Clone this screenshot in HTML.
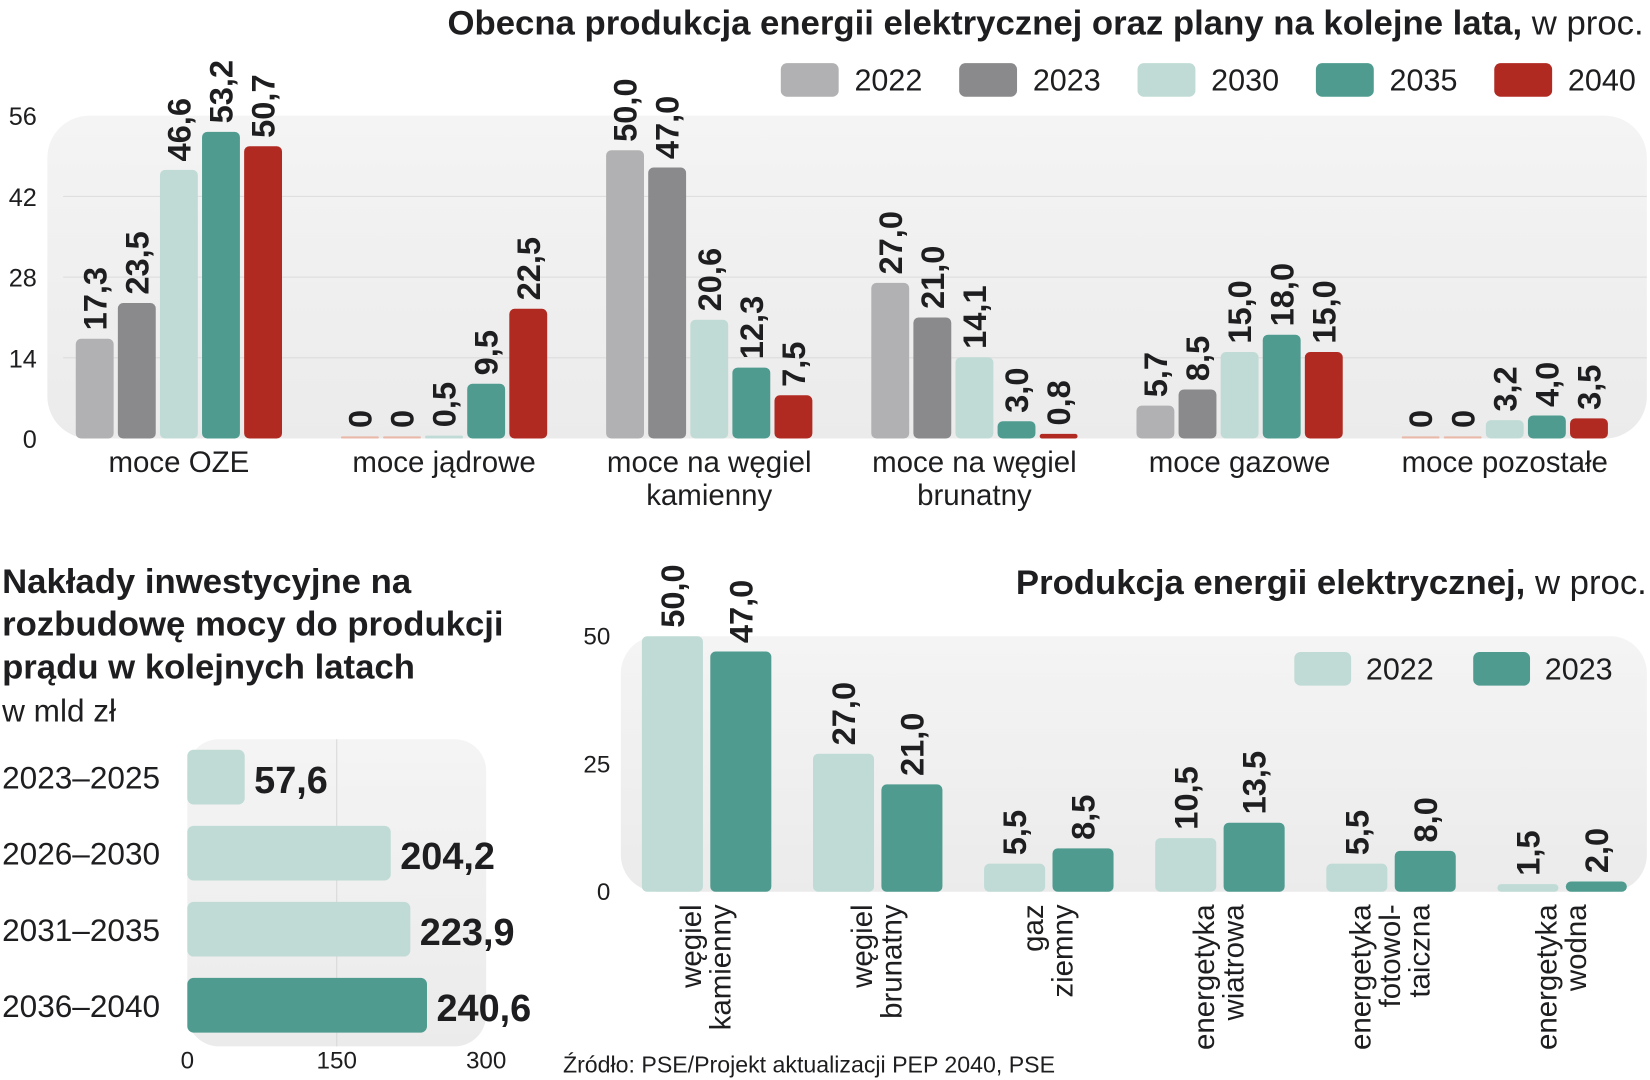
<!DOCTYPE html>
<html><head><meta charset="utf-8">
<style>
html,body{margin:0;padding:0;background:#fff;}
svg{display:block;}
text{font-family:"Liberation Sans",sans-serif;fill:#1e1e20;}
.b{font-family:"Liberation Sans Narrow","Liberation Sans",sans-serif;font-weight:bold;}
</style></head>
<body>
<svg id="root" width="1650" height="1080" viewBox="0 0 1568 1027" preserveAspectRatio="none" xmlns="http://www.w3.org/2000/svg">
<defs>
<linearGradient id="pg" x1="0" y1="0" x2="0" y2="1"><stop offset="0" stop-color="#f4f4f4"/><stop offset="1" stop-color="#ebebeb"/></linearGradient>
</defs>
<g id="top"></g>
<g id="inv"></g>
<g id="prod"></g>
<text x="535" y="1020" font-size="22" fill="#333" style="font-family:'Liberation Sans Narrow','Liberation Sans',sans-serif">Źródło: PSE/Projekt aktualizacji PEP 2040, PSE</text>
</svg>
<script>
// ---------- data ----------
const topCategories = [["moce OZE"],["moce jądrowe"],["moce na węgiel","kamienny"],["moce na węgiel","brunatny"],["moce gazowe"],["moce pozostałe"]];
const topSeriesNames = ["2022","2023","2030","2035","2040"];
const top2022 = [17.3, 0, 50.0, 27.0, 5.7, 0];
const top2023 = [23.5, 0, 47.0, 21.0, 8.5, 0];
const top2030 = [46.6, 0.5, 20.6, 14.1, 15.0, 3.2];
const top2035 = [53.2, 9.5, 12.3, 3.0, 18.0, 4.0];
const top2040 = [50.7, 22.5, 7.5, 0.8, 15.0, 3.5];
const topTicks = [0, 14, 28, 42, 56];

const invCategories = ["2023–2025","2026–2030","2031–2035","2036–2040"];
const invValues = [57.6, 204.2, 223.9, 240.6];
const invTicks = [0, 150, 300];

const prodCategories = [["węgiel","kamienny"],["węgiel","brunatny"],["gaz","ziemny"],["energetyka","wiatrowa"],["energetyka","fotowol-","taiczna"],["energetyka","wodna"]];
const prod2022 = [50.0, 27.0, 5.5, 10.5, 5.5, 1.5];
const prod2023 = [47.0, 21.0, 8.5, 13.5, 8.0, 2.0];
const prodTicks = [0, 25, 50];

const NS = "http://www.w3.org/2000/svg";
function mk(parent, tag, attrs, txt){
  const e = document.createElementNS(NS, tag);
  for (const k in attrs) e.setAttribute(k, attrs[k]);
  if (txt !== undefined) e.textContent = txt;
  parent.appendChild(e);
  return e;
}
function fmt(v){ return v === 0 ? "0" : v.toFixed(1).replace(".", ","); }

// ---------- top chart ----------
(function(){
  const g = document.getElementById("top");
  const y0 = 417, y1 = 110, vmax = 56;
  const y = v => y0 - v / vmax * (y0 - y1);
  const cx = i => 170 + i * 252;
  const colors = ["#b1b1b3","#8a8a8c","#c0dbd5","#4f9b8f","#b02a22"];
  const series = [top2022, top2023, top2030, top2035, top2040];
  const panel = mk(g, "rect", {x:45, y:110, width:1520, height:307, rx:40, fill:"url(#pg)"});
  
  
  topTicks.forEach(t => {
    if (t > 0 && t < vmax) {
      const l = mk(g, "line", {x1:60, x2:1565, y1:y(t), y2:y(t), stroke:"#dcdcdc", "stroke-width":1});
      
      
    }
    const tx = mk(g, "text", {x:35, y:y(t)+9, "font-size":24, "text-anchor":"end", fill:"#333"}, String(t));
    
    
  });
  topCategories.forEach((c, i) => {
    series.forEach((s, j) => {
      const v = s[i];
      const bx = cx(i) - 98 + j * 40;
      const h = Math.max(y0 - y(v), 2);
      const r = mk(g, "rect", {x:bx, y:y0-h, width:36, height:h, rx:Math.min(5,h/2), fill: v === 0 ? "#e8b8a8" : colors[j]});
      
      
      const lx = bx + 18 + 11, ly = y0 - h - 8;
      const t = mk(g, "text", {x:lx, y:ly, "font-size":31, transform:`rotate(-90 ${lx} ${ly})`, class:"b"}, fmt(v));
      
      
    });
    c.forEach((line, k) => {
      const t = mk(g, "text", {x:cx(i), y:449 + k*31, "font-size":28, "text-anchor":"middle"}, line);
      
      
    });
  });
  topSeriesNames.forEach((n, j) => {
    const lx = 742 + j * 169.5;
    const r = mk(g, "rect", {x:lx, y:60, width:55, height:32, rx:6, fill:colors[j]});
    
    
    const t = mk(g, "text", {x:lx+70, y:86, "font-size":29}, n);
    
    
  });
  const title = mk(g, "text", {x:1562, y:33, "font-size":33, "text-anchor":"end"});
  
  
  mk(title, "tspan", {class:"b"}, "Obecna produkcja energii elektrycznej oraz plany na kolejne lata,");
  mk(title, "tspan", {}, " w proc.");
})();

// ---------- investment chart ----------
(function(){
  const g = document.getElementById("inv");
  const x0 = 178, x1 = 462, vmax = 300;
  const x = v => x0 + v / vmax * (x1 - x0);
  const titleLines = ["Nakłady inwestycyjne na","rozbudowę mocy do produkcji","prądu w kolejnych latach"];
  titleLines.forEach((l, k) => {
    const t = mk(g, "text", {x:2, y:564 + k*40.5, "font-size":33, class:"b"}, l);
    
    
  });
  const sub = mk(g, "text", {x:2, y:686, "font-size":30, fill:"#333"}, "w mld zł");
  
  
  const p = mk(g, "rect", {x:178, y:703, width:284, height:292, rx:30, fill:"url(#pg)"});
  
  
  const gl = mk(g, "line", {x1:x(150), x2:x(150), y1:703, y2:995, stroke:"#d8d8d8"});
  
  
  invTicks.forEach(t => {
    const tx = mk(g, "text", {x:x(t), y:1016, "font-size":23, "text-anchor":"middle", fill:"#333"}, String(t));
    
    
  });
  invCategories.forEach((c, i) => {
    const cy = 739 + i * 72.3;
    const r = mk(g, "rect", {x:x0, y:cy-26, width:x(invValues[i])-x0, height:52, rx:6, fill: i === 3 ? "#4f9b8f" : "#c0dbd5"});
    
    
    const t = mk(g, "text", {x:2, y:cy+11, "font-size":30}, c);
    
    
    const vl = mk(g, "text", {x:x(invValues[i])+9, y:cy+15, "font-size":36, class:"b"}, fmt(invValues[i]));
    
    
  });
})();

// ---------- production chart ----------
(function(){
  const g = document.getElementById("prod");
  const y0 = 848, y1 = 605, vmax = 50;
  const y = v => y0 - v / vmax * (y0 - y1);
  const cx = i => 671 + i * 162.6;
  const p = mk(g, "rect", {x:590, y:605, width:975, height:243, rx:35, fill:"url(#pg)"});
  
  
  prodTicks.forEach(t => {
    const tx = mk(g, "text", {x:580, y:y(t)+8, "font-size":23, "text-anchor":"end", fill:"#333"}, String(t));
    
    
  });
  const colors = ["#c0dbd5","#4f9b8f"], names = ["2022","2023"];
  [prod2022, prod2023].forEach((s, j) => {
    s.forEach((v, i) => {
      const bx = cx(i) - 61 + j * 65;
      const h = Math.max(y0 - y(v), 2);
      const r = mk(g, "rect", {x:bx, y:y0-h, width:58, height:h, rx:Math.min(5,h/2), fill:colors[j]});
      
      
      const lx = bx + 29 + 11, ly = y0 - h - 8;
      const t = mk(g, "text", {x:lx, y:ly, "font-size":31, transform:`rotate(-90 ${lx} ${ly})`, class:"b"}, fmt(v));
      
      
    });
  });
  prodCategories.forEach((c, i) => {
    const n = c.length;
    c.forEach((line, k) => {
      const lx = cx(i) - (n-1)*14 + k*28 + 9, ly = 860;
      const t = mk(g, "text", {x:lx, y:ly, "font-size":28, "text-anchor":"end", transform:`rotate(-90 ${lx} ${ly})`}, line);
      
      
    });
  });
  names.forEach((n, j) => {
    const lx = 1230 + j * 170;
    const r = mk(g, "rect", {x:lx, y:620, width:54, height:32, rx:6, fill:colors[j]});
    
    
    const t = mk(g, "text", {x:lx+68, y:646, "font-size":29}, n);
    
    
  });
  const title = mk(g, "text", {x:1565, y:565, "font-size":33, "text-anchor":"end"});
  
  
  mk(title, "tspan", {class:"b"}, "Produkcja energii elektrycznej,");
  mk(title, "tspan", {}, " w proc.");
})();
</script>
</body></html>
